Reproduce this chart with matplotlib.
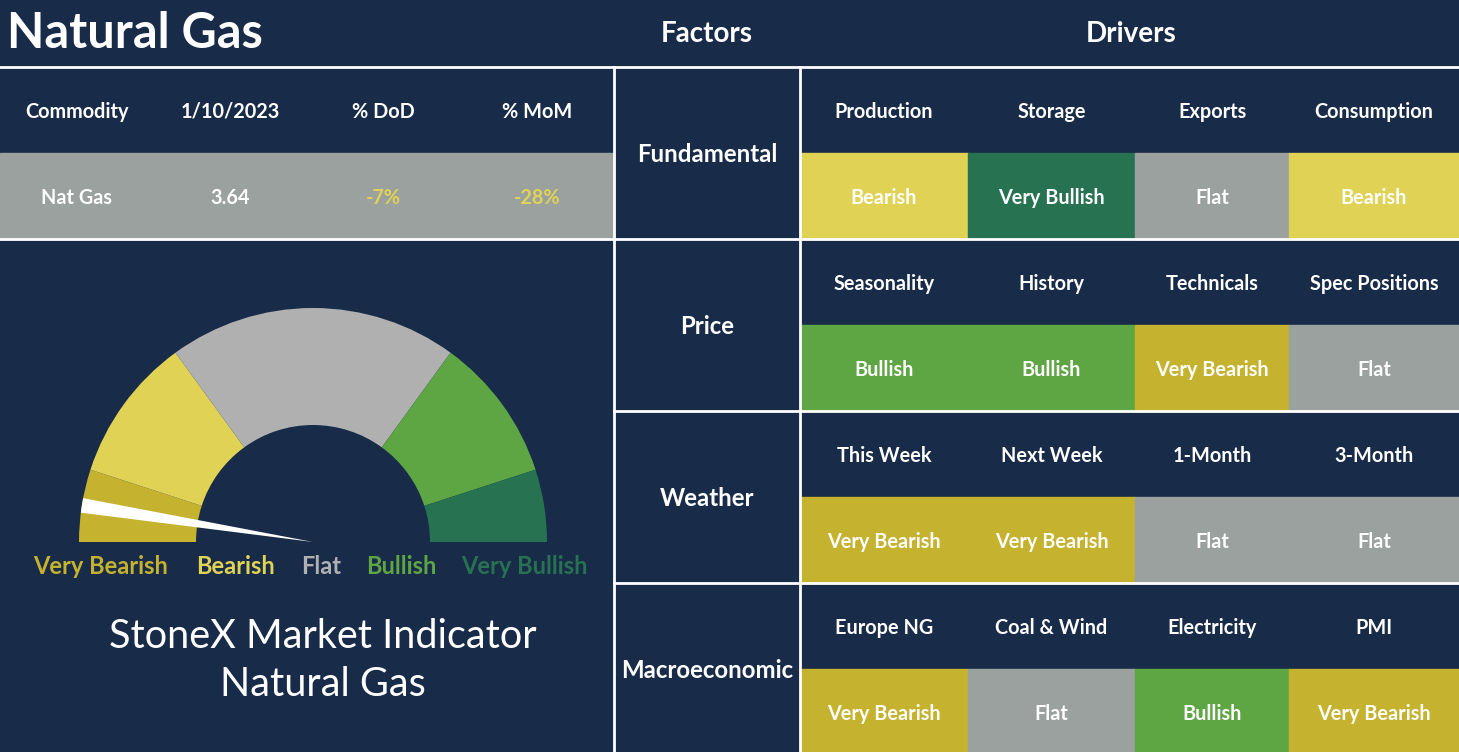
import matplotlib
matplotlib.use("Agg")
import matplotlib.pyplot as plt
from matplotlib.patches import Rectangle, Wedge
import numpy as np

# ---------------- data ----------------
title = "Natural Gas"
table_columns = ["Commodity", "1/10/2023", "% DoD", "% MoM"]
table_values = ["Nat Gas", "3.64", "-7%", "-28%"]
table_value_colors = ["white", "white", "#E0D254", "#E0D254"]

factors = ["Fundamental", "Price", "Weather", "Macroeconomic"]
drivers = [
    ["Production", "Storage", "Exports", "Consumption"],
    ["Seasonality", "History", "Technicals", "Spec Positions"],
    ["This Week", "Next Week", "1-Month", "3-Month"],
    ["Europe NG", "Coal & Wind", "Electricity", "PMI"],
]
signals = [
    ["Bearish", "Very Bullish", "Flat", "Bearish"],
    ["Bullish", "Bullish", "Very Bearish", "Flat"],
    ["Very Bearish", "Very Bearish", "Flat", "Flat"],
    ["Very Bearish", "Flat", "Bullish", "Very Bearish"],
]

gauge_labels = ["Very Bearish", "Bearish", "Flat", "Bullish", "Very Bullish"]
gauge_shares = [10, 20, 40, 20, 10]      # share of the half circle
needle_value = 5                          # on 0..100 scale (left -> right)
needle_halfwidth = 1

# ---------------- style ----------------
NAVY = "#182B48"
cell_colors = {
    "Very Bearish": "#C5B22E",
    "Bearish": "#E0D254",
    "Flat": "#9AA19F",
    "Bullish": "#5EA543",
    "Very Bullish": "#277251",
}
gauge_colors = ["#C5B22E", "#E0D254", "#B0B0B0", "#5EA543", "#277251"]
FONT = ["Lato", "DejaVu Sans"]
plt.rcParams["font.family"] = FONT

W, H = 1459, 752
fig = plt.figure(figsize=(W / 100, H / 100), dpi=100, facecolor=NAVY)
ax = fig.add_axes([0, 0, 1, 1])
ax.set_xlim(0, W)
ax.set_ylim(H, 0)
ax.axis("off")
ax.add_patch(Rectangle((0, 0), W, H, color=NAVY, zorder=0))

LW = 2
BOLD = "bold"
CELL_FS = 14.3
DY = 1.5
# ---------------- header band ----------------
ax.text(7, 48, title, color="white", fontsize=35, fontweight=BOLD,
        ha="left", va="baseline")
ax.text(707, 32 + DY, "Factors", color="white", fontsize=20, fontweight=BOLD,
        ha="center", va="center")
ax.text(1131, 32 + DY, "Drivers", color="white", fontsize=20, fontweight=BOLD,
        ha="center", va="center")

# ---------------- left table ----------------
left_w = 614
colw = left_w / len(table_columns)
ax.add_patch(Rectangle((0, 153), left_w, 86, color="#9AA19F", zorder=1))
for i, (c, v, vc) in enumerate(zip(table_columns, table_values, table_value_colors)):
    cx = colw * (i + 0.5)
    ax.text(cx, 110 + DY, c, color="white", fontsize=CELL_FS, fontweight=BOLD,
            ha="center", va="center", zorder=3)
    ax.text(cx, 196 + DY, v, color=vc, fontsize=CELL_FS, fontweight=BOLD,
            ha="center", va="center", zorder=3)

# ---------------- right grid ----------------
col_edges = [800, 968, 1135, 1289, 1459]
block_top = 67
block_h = 172
for r, (fac, drv, sig) in enumerate(zip(factors, drivers, signals)):
    top = block_top + r * block_h
    ax.text(707, top + 86 + DY, fac, color="white", fontsize=17.3, fontweight=BOLD,
            ha="center", va="center", zorder=3)
    for c in range(4):
        x0, x1 = col_edges[c], col_edges[c + 1]
        cx = (x0 + x1) / 2
        ax.text(cx, top + 43 + DY, drv[c], color="white", fontsize=CELL_FS,
                fontweight=BOLD, ha="center", va="center", zorder=3)
        ax.add_patch(Rectangle((x0, top + 86), x1 - x0, 86,
                               color=cell_colors[sig[c]], zorder=1))
        ax.text(cx, top + 129 + DY, sig[c], color="white", fontsize=CELL_FS,
                fontweight=BOLD, ha="center", va="center", zorder=3)

# ---------------- grid lines ----------------
ax.plot([0, W], [67, 67], color="white", lw=LW, zorder=4)
ax.plot([0, W], [239, 239], color="white", lw=LW, zorder=4)
for y in [411, 583]:
    ax.plot([614, W], [y, y], color="white", lw=LW, zorder=4)
for x in [614, 800]:
    ax.plot([x, x], [67, H], color="white", lw=LW, zorder=4)

# ---------------- gauge ----------------
gcx, gcy = 313, 542
R_out, R_in = 234, 117
bounds = np.concatenate([[0], np.cumsum(gauge_shares)])
to_angle = lambda v: 180 - v * 1.8   # screen angle, degrees
for i, col in enumerate(gauge_colors):
    a_left = to_angle(bounds[i])
    a_right = to_angle(bounds[i + 1])
    # y axis inverted: screen angle a -> data angle -a
    ax.add_patch(Wedge((gcx, gcy), R_out, -a_left, -a_right, width=R_out - R_in,
                       facecolor=col, edgecolor="none", zorder=2))
na1 = to_angle(needle_value - needle_halfwidth)
na2 = to_angle(needle_value + needle_halfwidth)
ax.add_patch(Wedge((gcx, gcy), R_out, -na1, -na2, facecolor="white",
                   edgecolor="none", zorder=3))

label_x = [101, 235, 321, 401, 524]
for lab, col, lx in zip(gauge_labels, gauge_colors, label_x):
    ax.text(lx, 567, lab, color=col, fontsize=17, fontweight=BOLD,
            ha="center", va="center", zorder=3)

ax.text(323, 636, "StoneX Market Indicator", color="white", fontsize=28.5,
        ha="center", va="center")
ax.text(323, 684, "Natural Gas", color="white", fontsize=28.5,
        ha="center", va="center")

fig.savefig("out.png", dpi=100, facecolor=NAVY)
